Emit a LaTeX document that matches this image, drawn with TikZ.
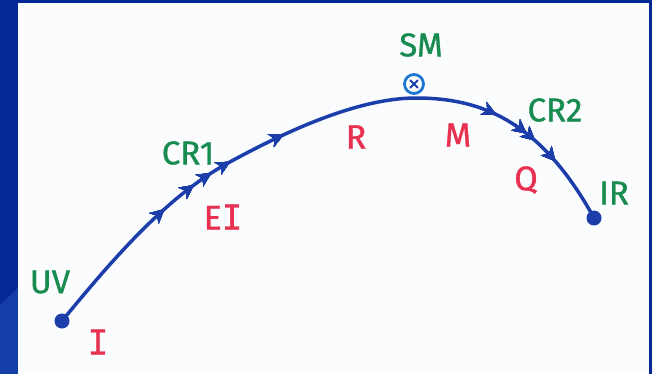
\documentclass[tikz,border=0pt]{standalone}
\usepackage{fontspec}
\setmainfont{Fira Sans}
\newfontfamily\handf[FakeBold=1]{Fira Sans}
\newfontfamily\barI[FakeBold=1]{DejaVu Sans Mono}
\usetikzlibrary{decorations.markings,arrows.meta}
\definecolor{slide}{RGB}{4,40,150}
\definecolor{slidelight}{RGB}{22,62,168}
\definecolor{paper}{RGB}{250,252,254}
\definecolor{ink}{RGB}{28,62,170}
\definecolor{sminK}{RGB}{30,120,210}
\definecolor{lblgreen}{RGB}{24,140,80}
\definecolor{lblred}{RGB}{232,48,80}
\begin{document}
\begin{tikzpicture}[x=1pt,y=-1pt,
  dot/.style={circle,fill=ink,inner sep=0pt,minimum size=15pt},
  smnode/.style={circle,draw=sminK,line width=2.8pt,inner sep=0pt,minimum size=19pt},
  curve/.style={draw=ink,line width=3.5pt,line cap=round},
  gl/.style={text=lblgreen,font=\handf\fontsize{33}{34}\selectfont},
  rl/.style={text=lblred,font=\handf\fontsize{34}{36}\selectfont},
  ahead/.style={decoration={markings,
    mark=at position #1 with {\arrow[ink]{Stealth[length=14pt,width=14pt,inset=4pt]}}},
    postaction=decorate}
]
\useasboundingbox (0,0) rectangle (652,374);
\fill[slide] (0,0) rectangle (652,374);
\fill[slidelight] (0,305) -- (18,288) -- (18,374) -- (0,374) -- cycle;
\fill[paper] (18,3) rectangle (649,374);

\node[dot] (start) at (62,321) {};
\node[dot] (end) at (594,218) {};
\node[smnode] (sm) at (414,84) {};
\draw[ink,line width=1.8pt,line cap=round]
  ([shift={(-3.8,-3.8)}]sm.center) -- ([shift={(3.8,3.8)}]sm.center)
  ([shift={(-3.8,3.8)}]sm.center) -- ([shift={(3.8,-3.8)}]sm.center);

\coordinate (p2) at (228,163);
\coordinate (p5) at (416,98);

\draw[curve,
  ahead=152pt, ahead=190pt, ahead=211pt, ahead=233pt, ahead=293pt,
  ahead=514pt, ahead=550pt, ahead=561pt, ahead=590pt]
  (start.center) .. controls (120,250) and (170,195) .. (p2)
  .. controls (290,129) and (360,98) .. (p5)
  .. controls (480,98) and (540,120) .. (end.center);

\node[gl] (uv) at (50,282) {UV};
\node[rl] (li) at (98,342) {\barI I};
\node[gl] (cr1) at (188,153) {CR1};
\node[rl] (ei) at (223,217) {E\barI I};
\node[gl] (smlabel) at (421,45) {SM};
\node[rl] (lr) at (356,137) {R};
\node[rl] (lm) at (458,135) {M};
\node[gl] (cr2) at (555,110) {CR2};
\node[rl] (lq) at (526,180) {Q};
\node[gl] (ir) at (614,193) {IR};
\end{tikzpicture}
\end{document}
